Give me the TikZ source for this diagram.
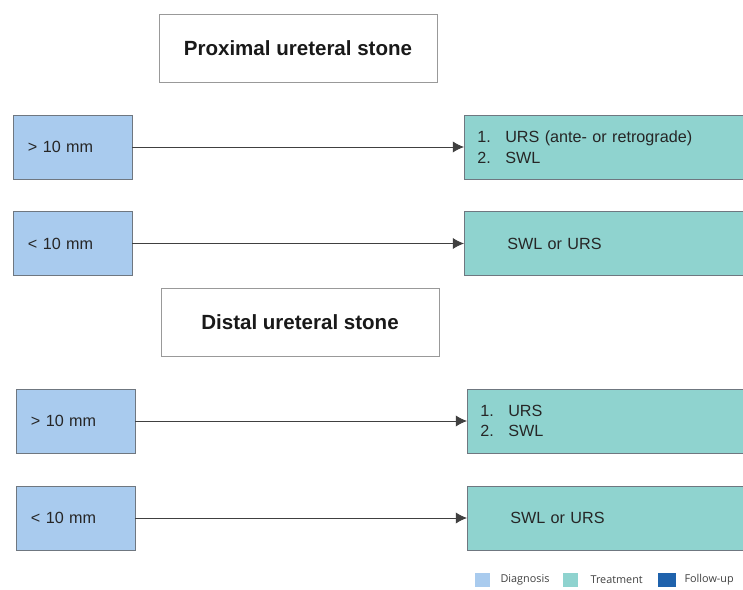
\documentclass[tikz,border=0pt]{standalone}
\usepackage{fontspec}
\setmainfont{Liberation Sans}
\newfontfamily\legfont{Open Sans}
\usetikzlibrary{arrows.meta, positioning}
\definecolor{diagblue}{HTML}{A9CBEE}
\definecolor{treatgreen}{HTML}{8FD3CF}
\definecolor{followblue}{HTML}{1F62AC}
\definecolor{boxgrey}{HTML}{6F7780}
\tikzset{
  ttl/.style = {draw=black!40, fill=white, minimum width=6.95cm,
    minimum height=1.7cm, text=black!90,
    font=\fontsize{14.6}{16}\selectfont\bfseries},
  dg/.style = {draw=boxgrey, fill=diagblue, minimum width=2.975cm,
    minimum height=1.6cm, inner xsep=0.375cm, text width=2.225cm,
    align=left, text=black!85, font=\fontsize{11.5}{14.6}\selectfont},
  tr/.style = {draw=boxgrey, fill=treatgreen, minimum width=7cm,
    minimum height=1.6cm, inner xsep=0.325cm, text width=6.35cm,
    align=left, anchor=west, text=black!85,
    font=\fontsize{11.5}{14.6}\selectfont},
  seta/.style = {-{Latex[length=8pt, width=8pt]}, line width=0.6pt,
    draw=black!75},
  lg/.style = {minimum width=0.375cm, minimum height=0.35cm, inner sep=0pt},
  lgt/.style = {font=\legfont\fontsize{7.7}{9}\selectfont, text=black!75,
    inner sep=0pt}
}
\newcommand{\itm}[1]{\makebox[0.7cm][l]{#1}}

\begin{document}
\begin{tikzpicture}[x=0.025cm, y=-0.025cm]
  \useasboundingbox (0,0) rectangle (743,590);

  % proximal
  \node [ttl] (prox) at (298,48) {Proximal ureteral stone};
  \node [dg] (pbig) at (72.5,147) {> 10 mm};
  \node [tr] (pbigt) at (464,147)
    {\itm{1.}URS (ante- or retrograde)\\ \itm{2.}SWL};
  \node [dg] (psml) at (72.5,243.5) {< 10 mm};
  \node [tr] (psmlt) at (464,243.5) {\hspace*{0.75cm}SWL or URS};
  \draw [seta] (pbig) -- (pbigt);
  \draw [seta] (psml) -- (psmlt);

  % distal
  \node [ttl] (dist) at (300,322.5) {Distal ureteral stone};
  \node [dg] (dbig) at (75.5,421) {> 10 mm};
  \node [tr] (dbigt) at (467,421) {\itm{1.}URS\\ \itm{2.}SWL};
  \node [dg] (dsml) at (75.5,518) {< 10 mm};
  \node [tr] (dsmlt) at (467,518) {\hspace*{0.75cm}SWL or URS};
  \draw [seta] (dbig) -- (dbigt);
  \draw [seta] (dsml) -- (dsmlt);

  % legend
  \node [lg, fill=diagblue] (lgd) at (482.5,579.5) {};
  \node [lgt, right=0.25cm of lgd] (lgdt) {Diagnosis};
  \node [lg, fill=treatgreen] (lgt) at (570.5,579.5) {};
  \node [lgt, right=0.3cm of lgt] (lgtt) {Treatment};
  \node [lg, fill=followblue, minimum width=0.45cm] (lgf) at (667,579.5) {};
  \node [lgt, right=0.2cm of lgf] (lgft) {Follow-up};
\end{tikzpicture}
\end{document}
